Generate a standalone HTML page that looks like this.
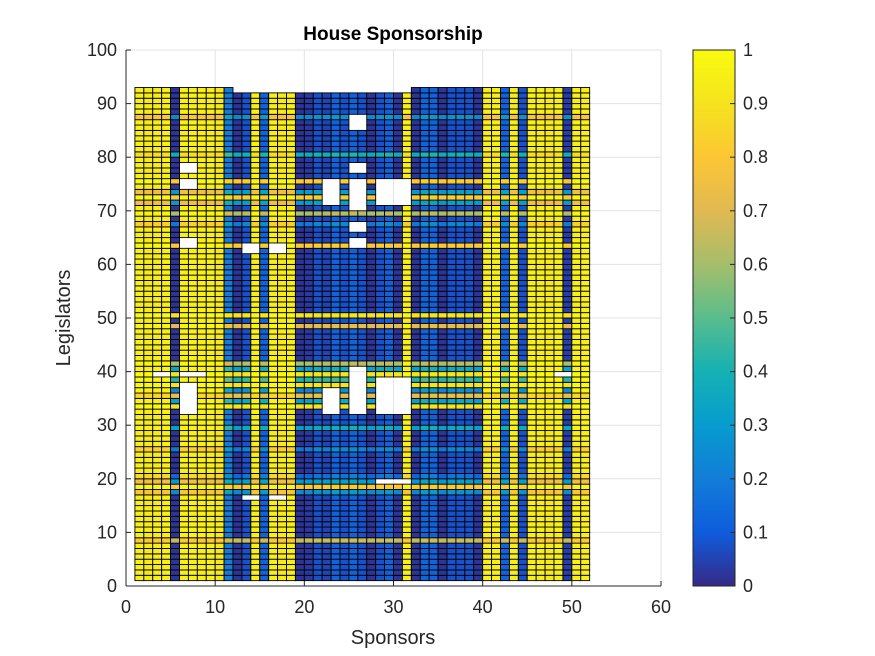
<!DOCTYPE html>
<html><head><meta charset="utf-8"><style>
body{margin:0;background:#fff;}
svg{display:block;font-family:"Liberation Sans",sans-serif;}
</style></head><body>
<svg id="chart" width="875" height="656" viewBox="0 0 875 656" xmlns="http://www.w3.org/2000/svg">
<defs>
<linearGradient id="parula" x1="0" y1="1" x2="0" y2="0">
<stop offset="0" stop-color="rgb(53,42,135)"/><stop offset="0.1" stop-color="rgb(15,92,221)"/>
<stop offset="0.2" stop-color="rgb(18,125,216)"/><stop offset="0.3" stop-color="rgb(7,156,207)"/>
<stop offset="0.4" stop-color="rgb(21,177,180)"/><stop offset="0.5" stop-color="rgb(89,189,140)"/>
<stop offset="0.6" stop-color="rgb(165,190,107)"/><stop offset="0.7" stop-color="rgb(225,185,82)"/>
<stop offset="0.8" stop-color="rgb(252,198,52)"/><stop offset="0.9" stop-color="rgb(245,227,30)"/>
<stop offset="1" stop-color="rgb(249,251,14)"/>
</linearGradient>
</defs>
<g id="grid"></g>
<g id="cells"></g>
<g id="axes"></g>
<text x="393" y="40" text-anchor="middle" font-size="19" font-weight="bold" fill="#000">House Sponsorship</text>
<text x="393" y="644" text-anchor="middle" font-size="20" fill="#262626">Sponsors</text>
<text transform="translate(70,318) rotate(-90)" text-anchor="middle" font-size="20" fill="#262626">Legislators</text>
<rect x="693" y="50" width="42" height="536" fill="url(#parula)" stroke="#262626" stroke-width="1"/>
<g id="cbticks"></g>
</svg>
<script>
const xTicks=[0,10,20,30,40,50,60];
const yTicks=[0,10,20,30,40,50,60,70,80,90,100];
const cbTicks=["0","0.1","0.2","0.3","0.4","0.5","0.6","0.7","0.8","0.9","1"];
const colBase=[0.95,0.93,0.94,0.95,0.02,0.95,0.96,0.95,0.95,0.92,0.2,0.02,0.08,0.95,0.12,0.95,0.93,0.95,
0.02,0.03,0.08,0.05,0.12,0.08,0.12,0.08,0.02,0.08,0.12,0.02,0.95,
0.02,0.12,0.12,0.02,0.08,0.08,0.08,0.02,0.95,0.95,0.12,0.95,0.08,0.95,0.94,0.93,0.95,0.04,0.95,0.95];
// per-row bipartisan lift (rows 1..92) and grey shift
const rowUp=[0,0,0,0,0,0,0,0.7,0,0,0,0,0,0,0,0,0,0.8,0,0,0,0,0,0,0,0,0,0,0.3,0,0,0,0.9,0.3,0.8,0.2,0.9,0.4,0.9,0.3,0.6,0,0,0,0,0,0,0.7,0,0.9,0,0,0,0,0,0,0,0,0,0,0,0,0.8,0,0,0,0,0,0.6,0,0,0.8,0,0,0.8,0,0,0,0,0.3,0,0,0,0,0,0,0,0,0,0,0,0];
const rowGrey=[0,0,0,0,0,0,0,0.4,0,0,0,0,0,0,0,0,0.4,0,0.5,0.2,0,0,0,0,0.3,0,0,0,0,0,0,0,0,0,0.3,0,0,0,0,0,0,0,0,0,0,0,0,0,0,0,0,0,0,0,0,0,0,0,0,0,0,0,0,0,0,0,0.3,0,0,0,0.5,0,0.5,0,0,0,0,0,0,0.2,0,0,0,0,0,0,0.4,0,0,0,0,0];
const holes=[[25,85],[25,86],[25,87],[26,85],[26,86],[26,87],[6,77],[7,77],[6,78],[7,78],[25,77],[26,77],[25,78],[26,78],
[6,74],[7,74],[6,75],[7,75],[6,63],[7,63],[6,64],[7,64],[13,62],[14,62],[13,63],[14,63],[16,62],[17,62],[16,63],[17,63],
[25,63],[26,63],[25,64],[26,64],[25,66],[26,66],[25,67],[26,67],
[3,39],[4,39],[6,39],[7,39],[8,39],[48,39],[49,39],[13,16],[14,16],[16,16],[17,16],
[28,19],[29,19],[30,19],[31,19]];
const holeRanges=[[22,23,71,75],[25,26,70,75],[28,31,71,75],[6,7,32,37],[22,23,32,36],[25,26,32,40],[28,31,32,38]];
const topMissing=[12,31];
const X0=126,X1=661,Y0=586,Y1=50;
const sx=v=>X0+(v/60)*(X1-X0), sy=v=>Y0-(v/100)*(Y0-Y1);
const stops=[[53,42,135],[15,92,221],[18,125,216],[7,156,207],[21,177,180],[89,189,140],[165,190,107],[225,185,82],[252,198,52],[245,227,30],[249,251,14]];
function cmap(v){v=Math.max(0,Math.min(1,v));const t=v*10,i=Math.min(9,Math.floor(t)),f=t-i;const a=stops[i],b=stops[i+1];
return `rgb(${a.map((c,k)=>Math.round(c+(b[k]-c)*f)).join(',')})`;}
const NS="http://www.w3.org/2000/svg";
function mk(tag,attrs,parent){const e=document.createElementNS(NS,tag);for(const k in attrs)e.setAttribute(k,attrs[k]);parent.appendChild(e);return e;}
const isHole=(c,r)=>holes.some(h=>h[0]===c&&h[1]===r)||holeRanges.some(h=>c>=h[0]&&c<=h[1]&&r>=h[2]&&r<=h[3])||(r===92&&c>=topMissing[0]&&c<=topMissing[1]);
const grid=document.getElementById('grid');
xTicks.forEach(t=>{const l=mk('line',{x1:sx(t),x2:sx(t),y1:Y0,y2:Y1,stroke:'#e3e3e3','stroke-width':1},grid);
});
yTicks.forEach(t=>{const l=mk('line',{x1:X0,x2:X1,y1:sy(t),y2:sy(t),stroke:'#e3e3e3','stroke-width':1},grid);
});
const cells=document.getElementById('cells');
for(let r=1;r<=92;r++){for(let c=1;c<=51;c++){
 if(isHole(c,r))continue;
 let v=colBase[c-1];const up=rowUp[r-1],g=rowGrey[r-1];
 v=v+up*(1-v);v=v*(1-g)+0.55*g;
 const x=sx(c),y=sy(r+1);
 const e=mk('rect',{x:x,y:y,width:sx(c+1)-x,height:sy(r)-y,fill:cmap(v),stroke:'#000','stroke-width':0.9},cells);
 
 
}}
const axes=document.getElementById('axes');
mk('line',{x1:X0,x2:X0,y1:Y0,y2:Y1,stroke:'#262626','stroke-width':1},axes);
mk('line',{x1:X0,x2:X1,y1:Y0,y2:Y0,stroke:'#262626','stroke-width':1},axes);
xTicks.forEach(t=>{mk('line',{x1:sx(t),x2:sx(t),y1:Y0,y2:Y0-5,stroke:'#262626'},axes);
const e=mk('text',{x:sx(t),y:Y0+27,'text-anchor':'middle','font-size':18,fill:'#262626'},axes);e.textContent=t;
});
yTicks.forEach(t=>{mk('line',{x1:X0,x2:X0+5,y1:sy(t),y2:sy(t),stroke:'#262626'},axes);
const e=mk('text',{x:X0-9,y:sy(t)+6,'text-anchor':'end','font-size':18,fill:'#262626'},axes);e.textContent=t;
});
const cb=document.getElementById('cbticks');
cbTicks.forEach((t,i)=>{const y=586-i*53.6;
mk('line',{x1:735,x2:730,y1:y,y2:y,stroke:'#262626'},cb);
const e=mk('text',{x:743,y:y+6,'font-size':18,fill:'#262626'},cb);e.textContent=t;
});
</script>
</body></html>
